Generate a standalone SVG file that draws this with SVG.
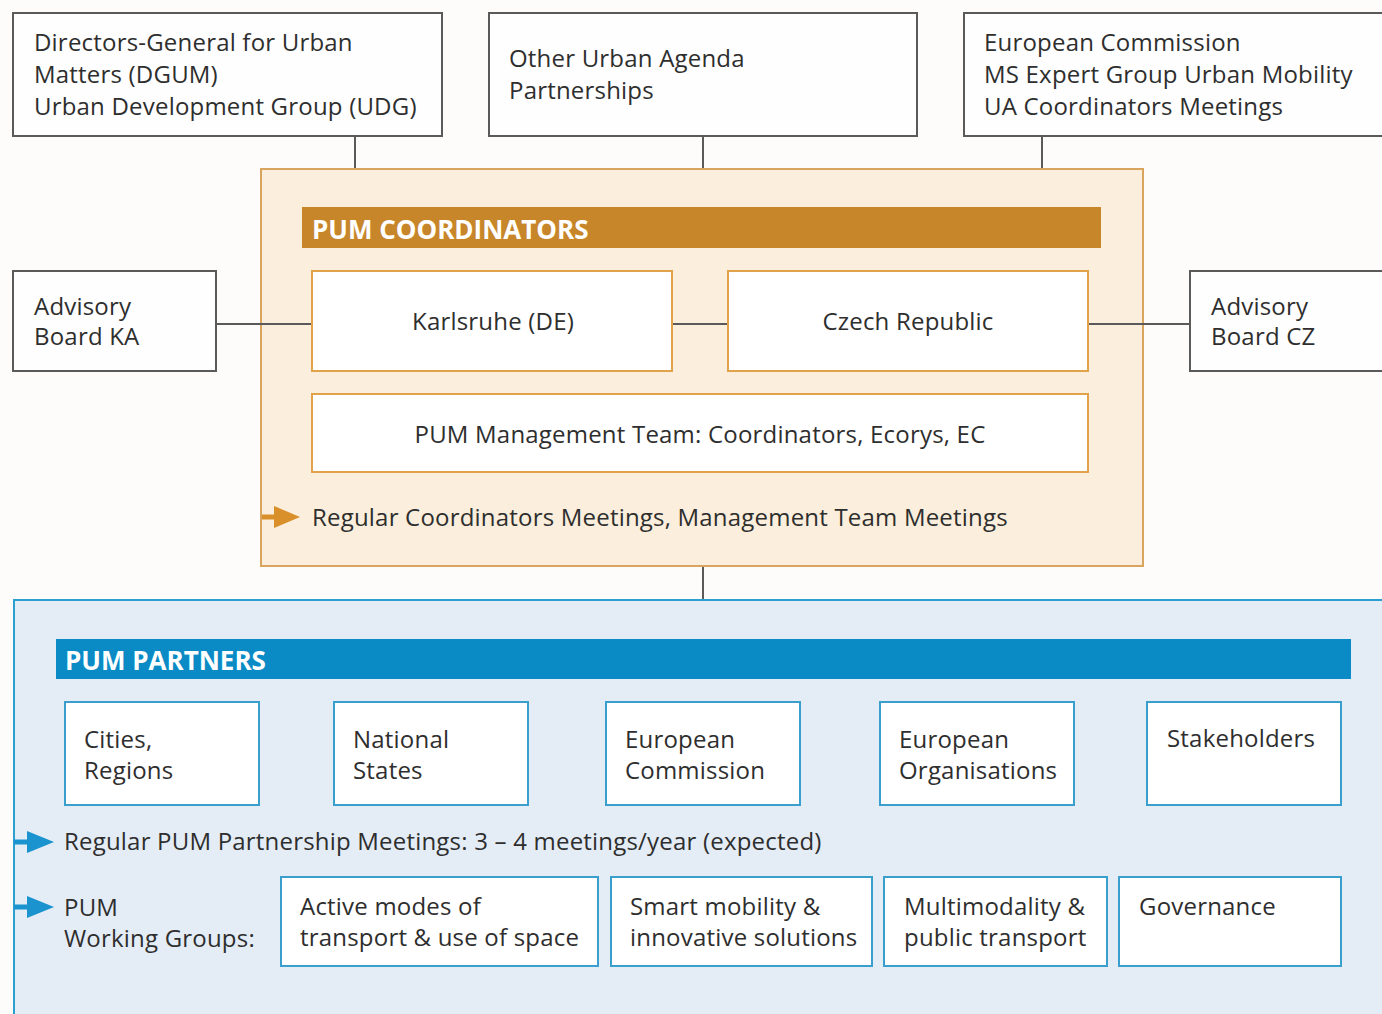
<svg xmlns="http://www.w3.org/2000/svg" width="1382" height="1014" viewBox="0 0 1382 1014">
<defs>
<style>
text{font-family:"Open Sans","Noto Sans","Liberation Sans",sans-serif;font-size:24px;letter-spacing:0.2px;fill:#2e2e2e}
.gbox{fill:#fefefe;stroke:#5a5a5a;stroke-width:2}
.obox{fill:#ffffff;stroke:#e2a24a;stroke-width:2}
.bbox{fill:#ffffff;stroke:#3a9fcc;stroke-width:2}
.conn{stroke:#5a5a5a;stroke-width:2;fill:none}
.hdr{font-weight:bold;font-size:26px;letter-spacing:0;fill:#ffffff}
.mid{text-anchor:middle}
</style>
</defs>
<rect width="1382" height="1014" fill="#fdfcfa"/>

<g id="connectors">
<line class="conn" x1="355" y1="136" x2="355" y2="169"/>
<line class="conn" x1="703" y1="136" x2="703" y2="169"/>
<line class="conn" x1="1042" y1="136" x2="1042" y2="169"/>
<line class="conn" x1="703" y1="566" x2="703" y2="600"/>
</g>

<g id="dgum">
<rect class="gbox" x="13" y="13" width="429" height="123"/>
<text x="34" y="51">Directors-General for Urban</text>
<text x="34" y="83">Matters (DGUM)</text>
<text x="34" y="115">Urban Development Group (UDG)</text>
</g>
<g id="other-ua">
<rect class="gbox" x="489" y="13" width="428" height="123"/>
<text x="509" y="67">Other Urban Agenda</text>
<text x="509" y="99">Partnerships</text>
</g>
<g id="ec-top">
<rect class="gbox" x="964" y="13" width="430" height="123"/>
<text x="984" y="51">European Commission</text>
<text x="984" y="83">MS Expert Group Urban Mobility</text>
<text x="984" y="115">UA Coordinators Meetings</text>
</g>

<g id="coordinators">
<rect x="261" y="169" width="882" height="397" fill="#fbeedc" stroke="#d9a55e" stroke-width="2"/>
<rect x="302" y="207" width="799" height="41" fill="#c8862a"/>
<text class="hdr" x="312" y="239">PUM COORDINATORS</text>
</g>

<g id="connectors-mid">
<line class="conn" x1="216" y1="324" x2="312" y2="324"/>
<line class="conn" x1="672" y1="324" x2="728" y2="324"/>
<line class="conn" x1="1088" y1="324" x2="1190" y2="324"/>
</g>

<g id="karlsruhe">
<rect class="obox" x="312" y="271" width="360" height="100"/>
<text class="mid" x="493" y="330">Karlsruhe (DE)</text>
</g>
<g id="czech">
<rect class="obox" x="728" y="271" width="360" height="100"/>
<text class="mid" x="908" y="330">Czech Republic</text>
</g>
<g id="mgmt">
<rect class="obox" x="312" y="394" width="776" height="78"/>
<text class="mid" x="700" y="443">PUM Management Team: Coordinators, Ecorys, EC</text>
</g>
<g id="coord-meetings">
<line x1="262" y1="517" x2="280" y2="517" stroke="#d98f2a" stroke-width="5"/>
<polygon points="274,506 300,517 274,528" fill="#d98f2a"/>
<text x="312" y="526">Regular Coordinators Meetings, Management Team Meetings</text>
</g>

<g id="advisory-ka">
<rect class="gbox" x="13" y="271" width="203" height="100"/>
<text x="34" y="315">Advisory</text>
<text x="34" y="345">Board KA</text>
</g>
<g id="advisory-cz">
<rect class="gbox" x="1190" y="271" width="204" height="100"/>
<text x="1211" y="315">Advisory</text>
<text x="1211" y="345">Board CZ</text>
</g>

<g id="partners">
<rect x="14" y="600" width="1380" height="430" fill="#e4edf6" stroke="#2a9fd0" stroke-width="2"/>
<rect x="56" y="639" width="1295" height="40" fill="#0a8bc6"/>
<text class="hdr" x="65" y="670">PUM PARTNERS</text>
</g>

<g id="cities">
<rect class="bbox" x="65" y="702" width="194" height="103"/>
<text x="84" y="748">Cities,</text>
<text x="84" y="779">Regions</text>
</g>
<g id="national">
<rect class="bbox" x="334" y="702" width="194" height="103"/>
<text x="353" y="748">National</text>
<text x="353" y="779">States</text>
</g>
<g id="ec">
<rect class="bbox" x="606" y="702" width="194" height="103"/>
<text x="625" y="748">European</text>
<text x="625" y="779">Commission</text>
</g>
<g id="eo">
<rect class="bbox" x="880" y="702" width="194" height="103"/>
<text x="899" y="748">European</text>
<text x="899" y="779">Organisations</text>
</g>
<g id="stakeholders">
<rect class="bbox" x="1147" y="702" width="194" height="103"/>
<text x="1167" y="747">Stakeholders</text>
</g>

<g id="partnership-meetings">
<line x1="14" y1="842" x2="32" y2="842" stroke="#1a93cf" stroke-width="5"/>
<polygon points="27,831 54,842 27,853" fill="#1a93cf"/>
<text x="64" y="850">Regular PUM Partnership Meetings: 3 – 4 meetings/year (expected)</text>
</g>

<g id="working-groups">
<line x1="14" y1="907" x2="32" y2="907" stroke="#1a93cf" stroke-width="5"/>
<polygon points="27,896 54,907 27,918" fill="#1a93cf"/>
<text x="64" y="916">PUM</text>
<text x="64" y="947">Working Groups:</text>
</g>
<g id="wg-active">
<rect class="bbox" x="281" y="877" width="317" height="89"/>
<text x="300" y="915">Active modes of</text>
<text x="300" y="946">transport &amp; use of space</text>
</g>
<g id="wg-smart">
<rect class="bbox" x="611" y="877" width="261" height="89"/>
<text x="630" y="915">Smart mobility &amp;</text>
<text x="630" y="946">innovative solutions</text>
</g>
<g id="wg-multi">
<rect class="bbox" x="884" y="877" width="223" height="89"/>
<text x="904" y="915">Multimodality &amp;</text>
<text x="904" y="946">public transport</text>
</g>
<g id="wg-gov">
<rect class="bbox" x="1119" y="877" width="222" height="89"/>
<text x="1139" y="915">Governance</text>
</g>
</svg>
